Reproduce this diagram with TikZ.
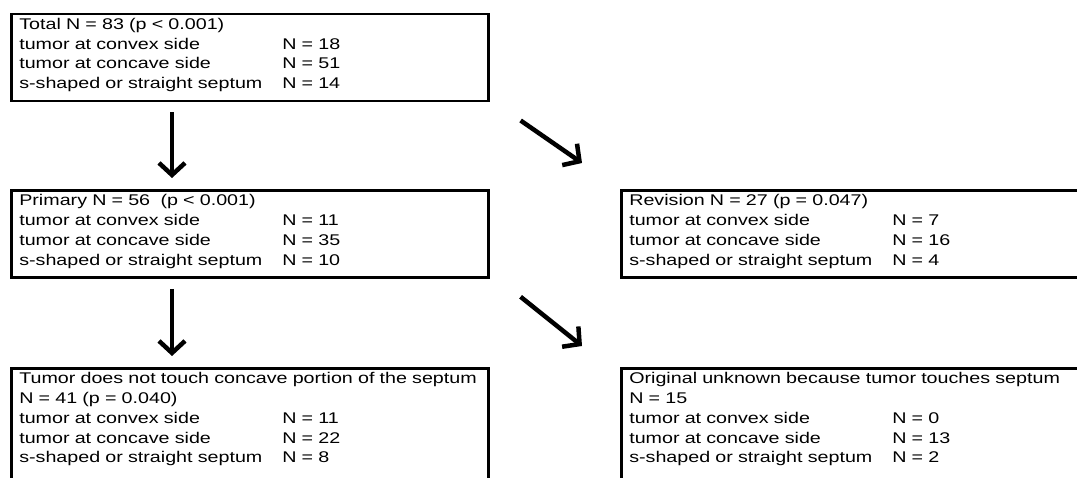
\documentclass[tikz,border=0pt]{standalone}
\usepackage{fontspec}
\setmainfont[FakeStretch=1.27]{Liberation Sans}
\usetikzlibrary{arrows.meta}

\begin{document}
\begin{tikzpicture}[x=1pt,y=1pt,
  group/.style={draw,line width=2.6pt,anchor=north west,inner xsep=8pt,inner ysep=1.5pt,text width=461pt,align=left,font=\fontsize{15.5}{19.8}\selectfont},
  flow/.style={line width=4.5pt,-{Straight Barb[length=12pt,width=26pt]}}]
\useasboundingbox (0,0) rectangle (1077,-478);
\clip (0,0) rectangle (1077,-478);
\path(10,-12.7) node[group](total){\begin{tabular}{@{}p{263pt}@{}l@{}}Total N = 83 (p < 0.001)\\ tumor at convex side & N = 18\\ tumor at concave side & N = 51\\ s-shaped or straight septum & N = 14\\[5pt]\end{tabular}}
(10,-189) node[group](primary){\begin{tabular}{@{}p{263pt}@{}l@{}}Primary N = 56 \ (p < 0.001)\\ tumor at convex side & N = 11\\ tumor at concave side & N = 35\\ s-shaped or straight septum & N = 10\\[5pt]\end{tabular}}
(620,-189) node[group](revision){\begin{tabular}{@{}p{263pt}@{}l@{}}Revision N = 27 (p = 0.047)\\ tumor at convex side & N = 7\\ tumor at concave side & N = 16\\ s-shaped or straight septum & N = 4\\[5pt]\end{tabular}}
(10,-367) node[group](touchfree){\begin{tabular}{@{}p{263pt}@{}l@{}}\multicolumn{2}{@{}l@{}}{Tumor does not touch concave portion of the septum}\\ N = 41 (p = 0.040)\\ tumor at convex side & N = 11\\ tumor at concave side & N = 22\\ s-shaped or straight septum & N = 8\\[14pt]\end{tabular}}
(620,-367) node[group](unknown){\begin{tabular}{@{}p{263pt}@{}l@{}}\multicolumn{2}{@{}l@{}}{Original unknown because tumor touches septum}\\ N = 15\\ tumor at convex side & N = 0\\ tumor at concave side & N = 13\\ s-shaped or straight septum & N = 2\\[14pt]\end{tabular}};

\draw[flow] ([xshift=162pt,yshift=-10pt]total.south west) -- ([xshift=162pt,yshift=11pt]primary.north west);
\draw[flow] ([shift={(31pt,-18pt)}]total.south east) -- ([shift={(-38pt,26pt)}]revision.north west);
\draw[flow] ([xshift=162pt,yshift=-10pt]primary.south west) -- ([xshift=162pt,yshift=11pt]touchfree.north west);
\draw[flow] ([shift={(31pt,-18pt)}]primary.south east) -- ([shift={(-38pt,21pt)}]unknown.north west);
\end{tikzpicture}
\end{document}
